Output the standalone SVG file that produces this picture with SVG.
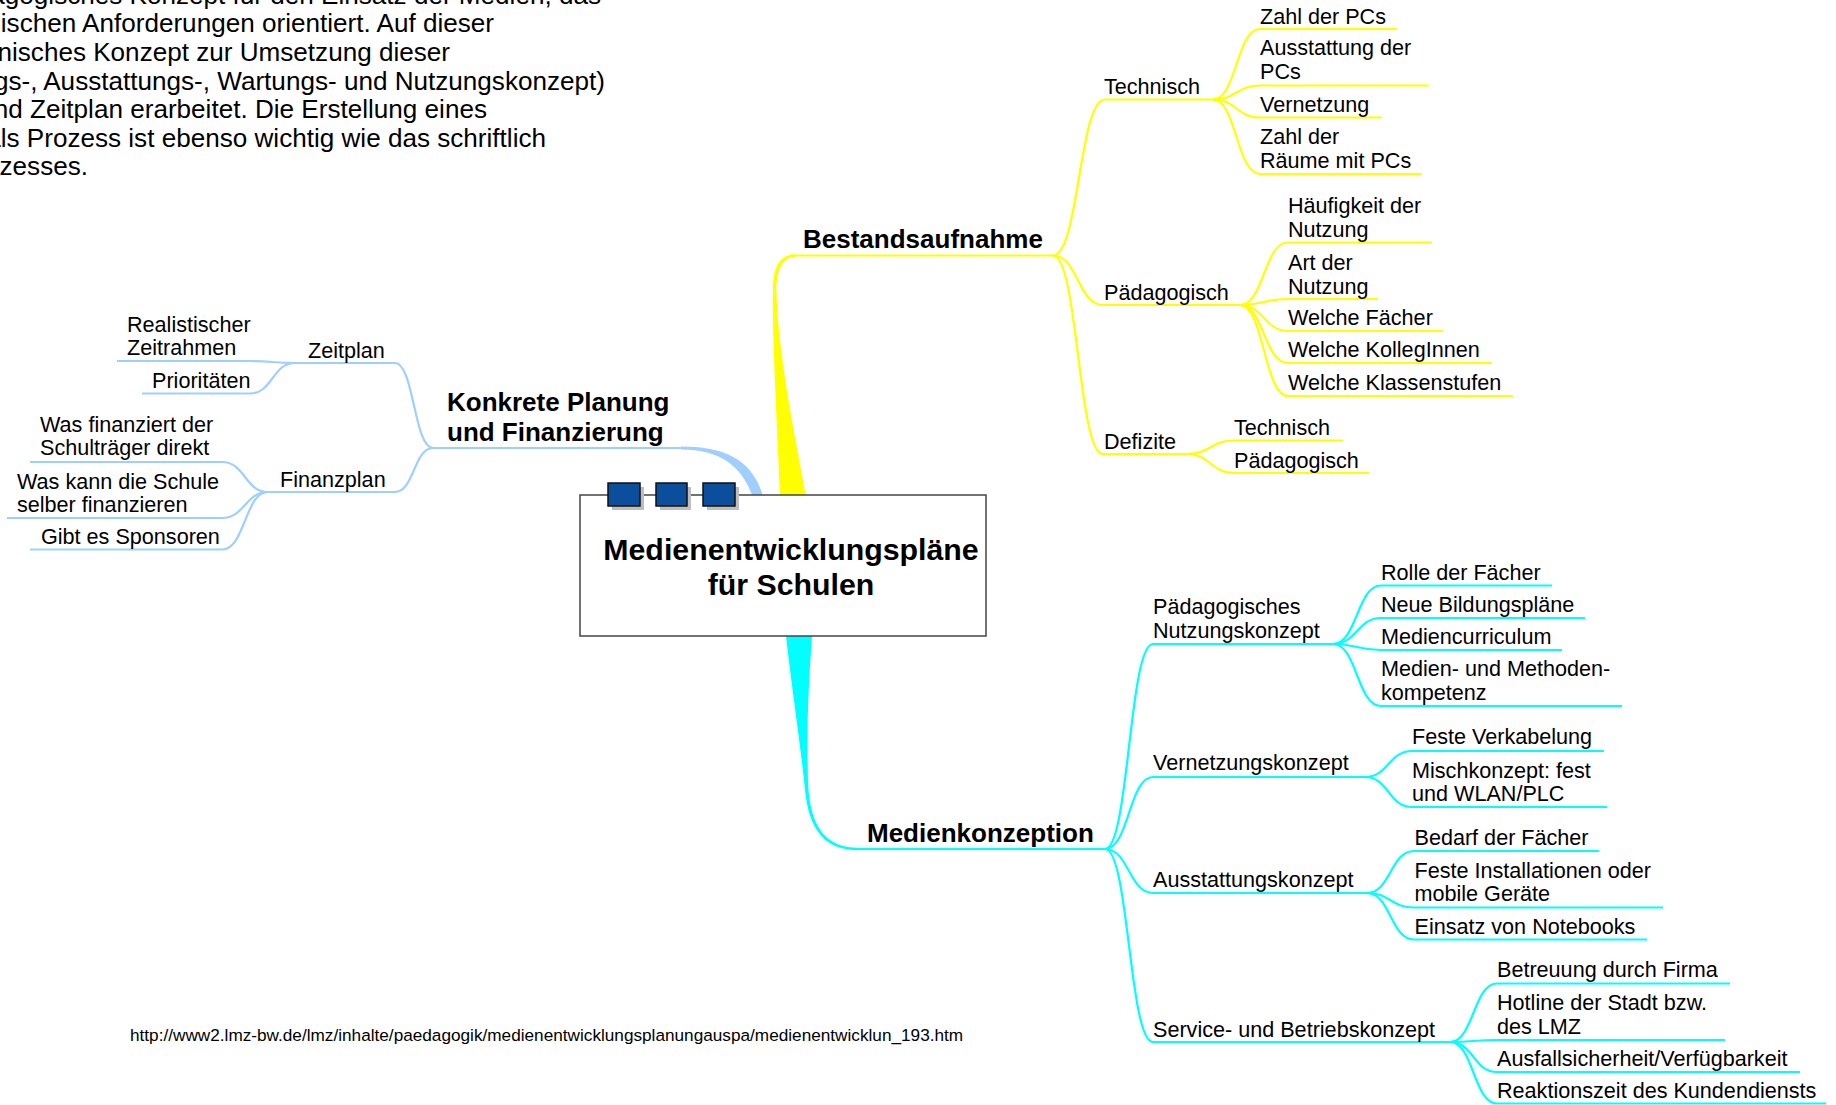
<svg xmlns="http://www.w3.org/2000/svg" width="1836" height="1105" viewBox="0 0 1836 1105">
<style>
text{font-family:"Liberation Sans",Arial,Helvetica,sans-serif;fill:#000}
.t{font-size:21.6px}
.p{font-size:26.1px;text-anchor:end}
.b{font-size:26px;font-weight:bold}
.h{font-size:30.3px;font-weight:bold;text-anchor:middle}
.u{font-size:17.2px}
.cy{fill:none;stroke:#ffff00;stroke-width:2.2}
.cc{fill:none;stroke:#00ffff;stroke-width:2.2}
.cb{fill:none;stroke:#9fcfff;stroke-width:2.2}
.sq{fill:#0b4f9c;stroke:#111;stroke-width:1.5}
.sh{fill:#bdbdbd}
</style>
<rect width="1836" height="1105" fill="#fff"/>
<g id="intro">
<text class="p" x="601" y="4">agogisches Konzept für den Einsatz der Medien, das</text>
<text class="p" x="494" y="31.5">ischen Anforderungen orientiert. Auf dieser</text>
<text class="p" x="450" y="60.5">nisches Konzept zur Umsetzung dieser</text>
<text class="p" x="605" y="89.5">gs-, Ausstattungs-, Wartungs- und Nutzungskonzept)</text>
<text class="p" x="487" y="118">nd Zeitplan erarbeitet. Die Erstellung eines</text>
<text class="p" x="546" y="146.5">als Prozess ist ebenso wichtig wie das schriftlich</text>
<text class="p" x="88" y="175">zesses.</text>
</g>
<g id="connectors">
<path fill="#ffff00" d="M780,496 C778,440 772,340 773,290 C773,268 779,254.4 795,254.4 L795,256.8 C783,257 776,270 776.5,292 C778,360 800,460 806,496 Z"/>
<path class="cy" d="M790,255.5 H1053"/>
<path fill="#00ffff" d="M786,636 C792,690 800,740 805,790 C809,830 825,850.2 858,850.2 L858,847.8 C830,847.8 812,832 808.5,790 C806,740 808,690 812,636 Z"/>
<path class="cc" d="M855,849 H1105"/>
<path fill="#9fcfff" d="M681,446.6 C722,446.6 752,458 763,496 L752.5,496 C742,466 720,449.4 681,449.4 Z"/>
<path class="cb" d="M433,448 H685"/>
<g class="cy">
<path d="M1053,255.5 C1079,255.5 1079,99.5 1105,99.5 H1213"/>
<path d="M1053,255.5 C1078,255.5 1078,305 1103,305 H1240"/>
<path d="M1053,255.5 C1078,255.5 1078,454 1103,454 H1187"/>
<path d="M1213,99.5 C1236.5,99.5 1236.5,29 1260,29 H1397"/>
<path d="M1213,99.5 C1236.5,99.5 1236.5,85.5 1260,85.5 H1429"/>
<path d="M1213,99.5 C1236.5,99.5 1236.5,117.5 1260,117.5 H1382"/>
<path d="M1213,99.5 C1236.5,99.5 1236.5,174 1260,174 H1422"/>
<path d="M1240,305 C1264,305 1264,242.5 1288,242.5 H1432"/>
<path d="M1240,305 C1264,305 1264,299 1288,299 H1378"/>
<path d="M1240,305 C1264,305 1264,331 1288,331 H1443"/>
<path d="M1240,305 C1264,305 1264,363 1288,363 H1492"/>
<path d="M1240,305 C1264,305 1264,396 1288,396 H1513"/>
<path d="M1187,454 C1210.5,454 1210.5,440.5 1234,440.5 H1343"/>
<path d="M1187,454 C1210.5,454 1210.5,473 1234,473 H1369"/>
</g>
<g class="cc">
<path d="M1105,849 C1129,849 1129,644 1153,644 H1333"/>
<path d="M1105,849 C1129,849 1129,777 1153,777 H1365"/>
<path d="M1105,849 C1129,849 1129,893 1153,893 H1367"/>
<path d="M1105,849 C1129,849 1129,1042 1153,1042 H1450"/>
<path d="M1333,644 C1357,644 1357,585.5 1381,585.5 H1552"/>
<path d="M1333,644 C1357,644 1357,618 1381,618 H1585"/>
<path d="M1333,644 C1357,644 1357,650 1381,650 H1562"/>
<path d="M1333,644 C1357,644 1357,706 1381,706 H1622"/>
<path d="M1365,777 C1388.5,777 1388.5,751 1412,751 H1604"/>
<path d="M1365,777 C1388.5,777 1388.5,807 1412,807 H1607"/>
<path d="M1367,893 C1390.5,893 1390.5,851 1414,851 H1599"/>
<path d="M1367,893 C1390.5,893 1390.5,907.5 1414,907.5 H1663"/>
<path d="M1367,893 C1390.5,893 1390.5,939.5 1414,939.5 H1647"/>
<path d="M1450,1042 C1473.5,1042 1473.5,983.5 1497,983.5 H1730"/>
<path d="M1450,1042 C1473.5,1042 1473.5,1040 1497,1040 H1725"/>
<path d="M1450,1042 C1473.5,1042 1473.5,1072 1497,1072 H1800"/>
<path d="M1450,1042 C1473.5,1042 1473.5,1103.5 1497,1103.5 H1826"/>
</g>
<g class="cb">
<path d="M433,448 C414,448 414,363 395,363 H295"/>
<path d="M433,448 C414,448 414,492 395,492 H268"/>
<path d="M295,363 C272.5,363 272.5,361 250,361 H117"/>
<path d="M295,363 C272.5,363 272.5,393.5 250,393.5 H142"/>
<path d="M268,492 C245,492 245,462 222,462 H30"/>
<path d="M268,492 C245,492 245,518 222,518 H7"/>
<path d="M268,492 C245,492 245,549.5 222,549.5 H30"/>
</g>
</g>
<g id="root">
<rect x="580" y="495" width="406" height="141" fill="#fff" stroke="#444" stroke-width="1.5"/>
<rect class="sh" x="612" y="487" width="32" height="23"/>
<rect class="sh" x="660" y="487" width="31" height="23"/>
<rect class="sh" x="707" y="487" width="32" height="23"/>
<rect class="sq" x="608" y="483" width="32" height="23"/>
<rect class="sq" x="656" y="483" width="31" height="23"/>
<rect class="sq" x="703" y="483" width="32" height="23"/>
<text class="h" x="791" y="560">Medienentwicklungspläne</text>
<text class="h" x="791" y="595">für Schulen</text>
</g>
<g id="bestandsaufnahme"><text class="b" x="803" y="248">Bestandsaufnahme</text></g>
<g id="technisch"><text class="t" x="1104" y="93.5">Technisch</text></g>
<g id="zahl-pcs"><text class="t" x="1260" y="23.5">Zahl der PCs</text></g>
<g id="ausstattung-pcs"><text class="t" x="1260" y="55">Ausstattung der</text><text class="t" x="1260" y="78.5">PCs</text></g>
<g id="vernetzung"><text class="t" x="1260" y="111.5">Vernetzung</text></g>
<g id="zahl-raeume"><text class="t" x="1260" y="143.5">Zahl der</text><text class="t" x="1260" y="168">Räume mit PCs</text></g>
<g id="paedagogisch"><text class="t" x="1104" y="300">Pädagogisch</text></g>
<g id="haeufigkeit"><text class="t" x="1288" y="212.5">Häufigkeit der</text><text class="t" x="1288" y="236.5">Nutzung</text></g>
<g id="art"><text class="t" x="1288" y="269.5">Art der</text><text class="t" x="1288" y="293.5">Nutzung</text></g>
<g id="faecher"><text class="t" x="1288" y="325">Welche Fächer</text></g>
<g id="kolleginnen"><text class="t" x="1288" y="357">Welche KollegInnen</text></g>
<g id="klassenstufen"><text class="t" x="1288" y="390">Welche Klassenstufen</text></g>
<g id="defizite"><text class="t" x="1104" y="449">Defizite</text></g>
<g id="def-technisch"><text class="t" x="1234" y="435">Technisch</text></g>
<g id="def-paedagogisch"><text class="t" x="1234" y="467.5">Pädagogisch</text></g>
<g id="medienkonzeption"><text class="b" x="867" y="842">Medienkonzeption</text></g>
<g id="nutzungskonzept"><text class="t" x="1153" y="614">Pädagogisches</text><text class="t" x="1153" y="638">Nutzungskonzept</text></g>
<g id="rolle"><text class="t" x="1381" y="579.5">Rolle der Fächer</text></g>
<g id="bildungsplaene"><text class="t" x="1381" y="612">Neue Bildungspläne</text></g>
<g id="mediencurriculum"><text class="t" x="1381" y="644">Mediencurriculum</text></g>
<g id="kompetenz"><text class="t" x="1381" y="676">Medien- und Methoden-</text><text class="t" x="1381" y="700">kompetenz</text></g>
<g id="vernetzungskonzept"><text class="t" x="1153" y="770">Vernetzungskonzept</text></g>
<g id="verkabelung"><text class="t" x="1412" y="744">Feste Verkabelung</text></g>
<g id="mischkonzept"><text class="t" x="1412" y="777.5">Mischkonzept: fest</text><text class="t" x="1412" y="801">und WLAN/PLC</text></g>
<g id="ausstattungskonzept"><text class="t" x="1153" y="887">Ausstattungskonzept</text></g>
<g id="bedarf"><text class="t" x="1414.5" y="845">Bedarf der Fächer</text></g>
<g id="installationen"><text class="t" x="1414.5" y="877.5">Feste Installationen oder</text><text class="t" x="1414.5" y="901">mobile Geräte</text></g>
<g id="notebooks"><text class="t" x="1414.5" y="933.5">Einsatz von Notebooks</text></g>
<g id="servicekonzept"><text class="t" x="1153" y="1036.5">Service- und Betriebskonzept</text></g>
<g id="betreuung"><text class="t" x="1497" y="977">Betreuung durch Firma</text></g>
<g id="hotline"><text class="t" x="1497" y="1010">Hotline der Stadt bzw.</text><text class="t" x="1497" y="1033.5">des LMZ</text></g>
<g id="ausfall"><text class="t" x="1497" y="1065.5">Ausfallsicherheit/Verfügbarkeit</text></g>
<g id="reaktion"><text class="t" x="1497" y="1098">Reaktionszeit des Kundendiensts</text></g>
<g id="konkrete"><text class="b" x="447" y="410.5">Konkrete Planung</text><text class="b" x="447" y="441">und Finanzierung</text></g>
<g id="zeitplan"><text class="t" x="308" y="358">Zeitplan</text></g>
<g id="zeitrahmen"><text class="t" x="127" y="331.5">Realistischer</text><text class="t" x="127" y="355">Zeitrahmen</text></g>
<g id="prioritaeten"><text class="t" x="152" y="387.5">Prioritäten</text></g>
<g id="finanzplan"><text class="t" x="280" y="487">Finanzplan</text></g>
<g id="schultraeger"><text class="t" x="40" y="431.5">Was finanziert der</text><text class="t" x="40" y="455">Schulträger direkt</text></g>
<g id="schule"><text class="t" x="17" y="488.5">Was kann die Schule</text><text class="t" x="17" y="512">selber finanzieren</text></g>
<g id="sponsoren"><text class="t" x="41" y="543.5">Gibt es Sponsoren</text></g>
<g id="source"><text class="u" x="130" y="1041">http://www2.lmz-bw.de/lmz/inhalte/paedagogik/medienentwicklungsplanungauspa/medienentwicklun_193.htm</text></g>
</svg>
